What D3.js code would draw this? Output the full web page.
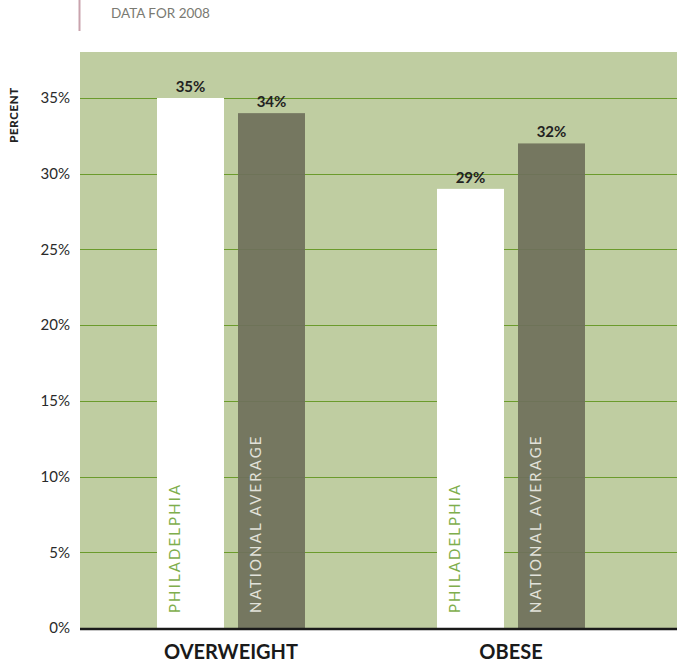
<!DOCTYPE html>
<html>
<head>
<meta charset="utf-8">
<script src="https://cdn.jsdelivr.net/npm/d3@7"></script>
<style>
  body { margin: 0; background: #fff; }
  svg { display: block; font-family: Lato, "Open Sans", sans-serif; }
</style>
</head>
<body>
<div id="chart"></div>
<script>
var w = 677,
    h = 663;

// data
var categories = ["OVERWEIGHT", "OBESE"];
var series = ["PHILADELPHIA", "NATIONAL AVERAGE"];
var philadelphia = [35, 29];
var national = [34, 32];
var yTicks = [0, 5, 10, 15, 20, 25, 30, 35];

var rows = categories.map(function (c, i) {
    return { cat: c, values: [philadelphia[i], national[i]] };
});

var plot = { left: 80, right: 677, top: 52, bottom: 628 };

var svg = d3.select("#chart").append("svg")
    .attr("width", w)
    .attr("height", h);

// header
svg.append("line")
    .attr("x1", 79.5).attr("x2", 79.5)
    .attr("y1", 0).attr("y2", 31)
    .style("stroke", "#c9a3ad")
    .style("stroke-width", 2);

svg.append("text")
    .attr("x", 111)
    .attr("y", 18)
    .text("DATA FOR 2008")
    .style("font-size", "13.5px")
    .style("fill", "#7a7a72");

var y = d3.scaleLinear()
    .domain([0, 35])
    .range([plot.bottom, 98]);

var x0 = d3.scaleBand()
    .domain(categories)
    .range([91, 651]);

var x1 = d3.scaleBand()
    .domain(series)
    .range([0, 148])
    .paddingInner(0.173);

var colors = { "PHILADELPHIA": "#ffffff", "NATIONAL AVERAGE": "#6f705b" };
var labelColors = { "PHILADELPHIA": "#7eae4c", "NATIONAL AVERAGE": "#e2e2da" };

// background
svg.append("rect")
    .attr("x", plot.left)
    .attr("y", plot.top)
    .attr("width", plot.right - plot.left)
    .attr("height", plot.bottom - plot.top)
    .style("fill", "#bfcda1");

// grid
svg.append("g")
    .selectAll("line")
    .data(yTicks.filter(function (d) { return d > 0; }))
    .enter()
    .append("line")
    .attr("x1", plot.left)
    .attr("x2", plot.right)
    .attr("y1", function (d) { return Math.round(y(d)) + 0.5; })
    .attr("y2", function (d) { return Math.round(y(d)) + 0.5; })
    .style("stroke", "#6b9b2c")
    .style("stroke-width", 1);

// y labels
svg.append("g")
    .selectAll("text")
    .data(yTicks)
    .enter()
    .append("text")
    .attr("x", 70)
    .attr("y", function (d) { return y(d); })
    .attr("dy", "0.35em")
    .style("text-anchor", "end")
    .style("font-size", "15px")
    .style("fill", "#2a2a2a")
    .text(function (d) { return d + "%"; });

svg.append("text")
    .attr("transform", "translate(18,115) rotate(-90)")
    .style("text-anchor", "middle")
    .style("font-size", "11.5px")
    .style("font-weight", "900")
    .style("letter-spacing", "0.6px")
    .style("fill", "#222")
    .text("PERCENT");

// bars
var groups = svg.append("g")
    .selectAll("g")
    .data(rows)
    .enter()
    .append("g")
    .attr("transform", function (d) {
        return "translate(" + (x0(d.cat) + x0.bandwidth() / 2 - 74) + ",0)";
    });

var bars = groups.selectAll("g")
    .data(function (d) {
        return d.values.map(function (v, i) { return { key: series[i], value: v }; });
    })
    .enter()
    .append("g");

bars.append("rect")
    .attr("x", function (d) { return x1(d.key); })
    .attr("y", function (d) { return y(d.value); })
    .attr("width", x1.bandwidth())
    .attr("height", function (d) { return y(0) - y(d.value); })
    .style("fill", function (d) { return colors[d.key]; })
    .style("opacity", function (d) { return d.key === "PHILADELPHIA" ? 1 : 0.93; });

bars.append("text")
    .attr("x", function (d) { return x1(d.key) + x1.bandwidth() / 2; })
    .attr("y", function (d) { return y(d.value) - 6; })
    .style("text-anchor", "middle")
    .style("font-size", "15px")
    .style("font-weight", "bold")
    .style("fill", "#222")
    .text(function (d) { return d.value + "%"; });

bars.append("text")
    .attr("transform", function (d) {
        return "translate(" + (x1(d.key) + 23) + "," + (plot.bottom - 15) + ") rotate(-90)";
    })
    .style("font-size", "15px")
    .style("font-weight", "400")
    .style("letter-spacing", "2.1px")
    .style("fill", function (d) { return labelColors[d.key]; })
    .text(function (d) { return d.key; });

// x axis
svg.append("line")
    .attr("x1", plot.left)
    .attr("x2", plot.right)
    .attr("y1", plot.bottom + 1)
    .attr("y2", plot.bottom + 1)
    .style("stroke", "#1a1a1a")
    .style("stroke-width", 2.5);

svg.append("g")
    .selectAll("text")
    .data(categories)
    .enter()
    .append("text")
    .attr("x", function (d) { return x0(d) + x0.bandwidth() / 2; })
    .attr("y", 659)
    .style("text-anchor", "middle")
    .style("font-size", "20px")
    .style("font-weight", "bold")
    .style("fill", "#1a1a1a")
    .text(function (d) { return d; });
</script>
</body>
</html>
